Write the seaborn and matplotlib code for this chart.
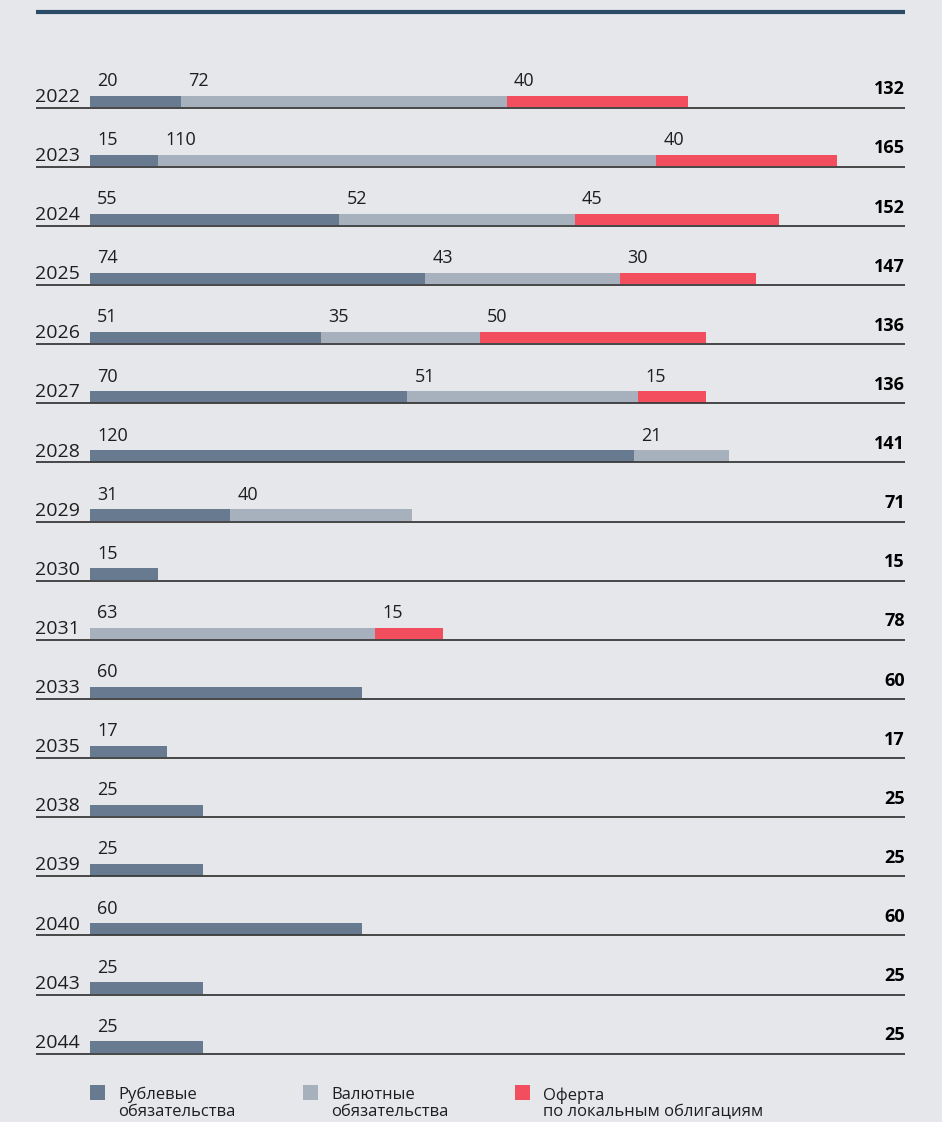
import numpy as np
import pandas as pd
import matplotlib
matplotlib.use("Agg")
import matplotlib.pyplot as plt
import seaborn as sns
from matplotlib.lines import Line2D
from matplotlib.patches import Rectangle

# =========================
# DATA
# =========================

years = ["2022", "2023", "2024", "2025", "2026", "2027", "2028", "2029", "2030",
         "2031", "2033", "2035", "2038", "2039", "2040", "2043", "2044"]
ruble = [20, 15, 55, 74, 51, 70, 120, 31, 15, 0, 60, 17, 25, 25, 60, 25, 25]
currency = [72, 110, 52, 43, 35, 51, 21, 40, 0, 63, 0, 0, 0, 0, 0, 0, 0]
offer = [40, 40, 45, 30, 50, 15, 0, 0, 0, 15, 0, 0, 0, 0, 0, 0, 0]

legend_labels = ["Рублевые\nобязательства", "Валютные\nобязательства",
                 "Оферта\nпо локальным облигациям"]

# =========================
# STYLE
# =========================

BG = "#e6e7eb"
C_RUB = "#687a8f"
C_CUR = "#a7b0bd"
C_OFF = "#f24e5e"
TXT = "#1e1e1e"

sns.set_style("white", {"axes.facecolor": BG, "figure.facecolor": BG})
plt.rcParams["font.family"] = ["Open Sans", "DejaVu Sans"]

df = pd.DataFrame({"year": years, "ruble": ruble, "currency": currency, "offer": offer})
df["c1"] = df["ruble"]
df["c2"] = df["ruble"] + df["currency"]
df["c3"] = df["c2"] + df["offer"]

# =========================
# FIGURE
# =========================

W, H = 942, 1122
fig = plt.figure(figsize=(W / 100, H / 100), dpi=100)
ax = fig.add_axes([90 / W, 1 - 1070 / H, 815 / W, 1030 / H])

bar_w = 11.5 / 59.125

# stacked bars drawn as cumulative layers
for col, color in [("c3", C_OFF), ("c2", C_CUR), ("c1", C_RUB)]:
    sns.barplot(data=df, y="year", x=col, orient="h", color=color,
                width=bar_w, saturation=1, linewidth=0, ax=ax, errorbar=None)

xmax = 815 / 4.53
ax.set_xlim(0, xmax)
ax.set_ylim(16.385, -1.036)
ax.axis("off")

n = len(years)
for i in range(n):
    # baseline under each row
    ax.hlines(i + bar_w / 2 + 0.012, (36 - 90) / 4.53, xmax + 0.1,
              color="#3a3a3a", lw=1.3, clip_on=False, zorder=1)
    ax.text(-2.2, i + 0.01, years[i], ha="right", va="baseline",
            fontsize=14, color=TXT, clip_on=False)
    ax.text(xmax, i - bar_w / 2 - 0.02, str(df["c3"][i]), ha="right", va="baseline",
            fontsize=13, fontweight="bold", color="black", clip_on=False)
    starts = [0, df["c1"][i], df["c2"][i]]
    vals = [ruble[i], currency[i], offer[i]]
    for s, v in zip(starts, vals):
        if v > 0:
            ax.text(s + 1.6, i - 0.26, str(v), ha="left", va="baseline",
                    fontsize=13, color=TXT)

# top rule
fig.add_artist(Line2D([36 / W, 905 / W], [1 - 12 / H, 1 - 12 / H],
                      color="#2b4a66", lw=3, solid_capstyle="butt",
                      transform=fig.transFigure))

# =========================
# LEGEND
# =========================

for x0, col, lab in zip([90, 303, 515], [C_RUB, C_CUR, C_OFF], legend_labels):
    fig.add_artist(Rectangle((x0 / W, 1 - 1100 / H), 15 / W, 15 / H,
                             color=col, transform=fig.transFigure, lw=0))
    fig.text((x0 + 28) / W, 1 - 1087 / H, lab, ha="left", va="top",
             fontsize=12, color=TXT, linespacing=1.05)

fig.savefig("out.png", dpi=100, facecolor=BG)
